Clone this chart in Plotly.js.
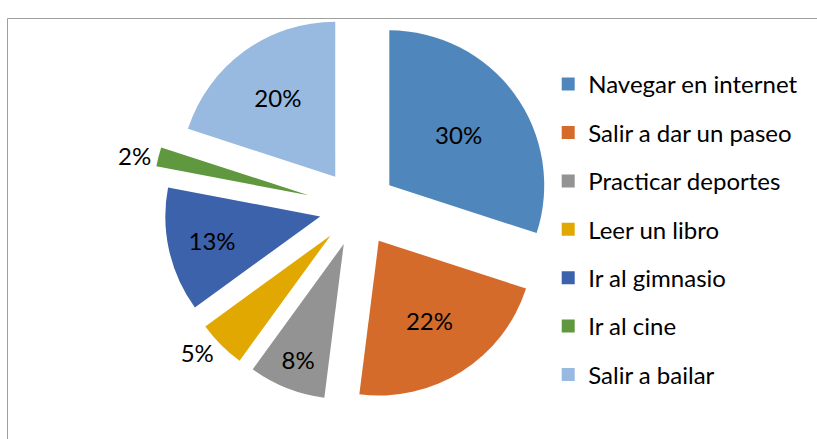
<!DOCTYPE html>
<html>
<head>
<meta charset="utf-8">
<script src="https://cdn.plot.ly/plotly-3.0.1.min.js"></script>
<style>html,body{margin:0;padding:0;background:#fff;}#chart{width:817px;height:439px;}</style>
</head>
<body>
<div id="chart"></div>
<script>
// Data
const categories = ["Navegar en internet", "Salir a dar un paseo", "Practicar deportes", "Leer un libro", "Ir al gimnasio", "Ir al cine", "Salir a bailar"];
const values = [30, 22, 8, 5, 13, 2, 20];
const colors = ["#4F86BC", "#D46B2B", "#939393", "#E0A800", "#3C62AC", "#5F983E", "#98B9E0"];
const pulls = [0.25, 0.25, 0.25, 0.25, 0.25, 0.33, 0.25];
const textPositions = ["inside", "inside", "inside", "outside", "inside", "outside", "inside"];

const FONT = "Lato, 'Open Sans', sans-serif";

const pie = {
  type: "pie",
  labels: categories,
  values: values,
  sort: false,
  direction: "clockwise",
  rotation: 0,
  pull: pulls,
  marker: {colors: colors, line: {width: 0}},
  textinfo: "percent",
  textposition: textPositions,
  insidetextorientation: "horizontal",
  textfont: {family: FONT, size: 24, color: "#000"},
  showlegend: false,
  domain: {x: [152/817, 564/817], y: [1 - 414/439, 1 - 2/439]},
  hoverinfo: "label+percent"
};

const legendTraces = categories.map((c, i) => ({
  type: "scatter",
  mode: "markers",
  x: [null], y: [null],
  name: c,
  legendgroup: "g" + i,
  marker: {symbol: "square", size: 13, color: colors[i], line: {width: 0}},
  showlegend: true,
  hoverinfo: "skip"
}));

const layout = {
  width: 817,
  height: 439,
  margin: {l: 0, r: 0, t: 0, b: 0},
  paper_bgcolor: "#fff",
  plot_bgcolor: "#fff",
  font: {family: FONT, size: 24, color: "#000"},
  xaxis: {visible: false},
  yaxis: {visible: false},
  showlegend: true,
  legend: {
    x: 0.671, xanchor: "left",
    y: 1 - 62/439, yanchor: "top",
    traceorder: "grouped",
    tracegroupgap: 14.2,
    font: {family: FONT, size: 24, color: "#000"},
    bgcolor: "rgba(0,0,0,0)",
    borderwidth: 0
  },
  shapes: [{
    type: "rect", xref: "paper", yref: "paper",
    x0: 7.5/817, x1: 1.05, y0: -0.05, y1: 1 - 18.5/439,
    line: {color: "#A0A0A0", width: 1}, fillcolor: "rgba(0,0,0,0)", layer: "below"
  }]
};

Plotly.newPlot("chart", [pie, ...legendTraces], layout, {displayModeBar: false, staticPlot: true});
</script>
</body>
</html>
